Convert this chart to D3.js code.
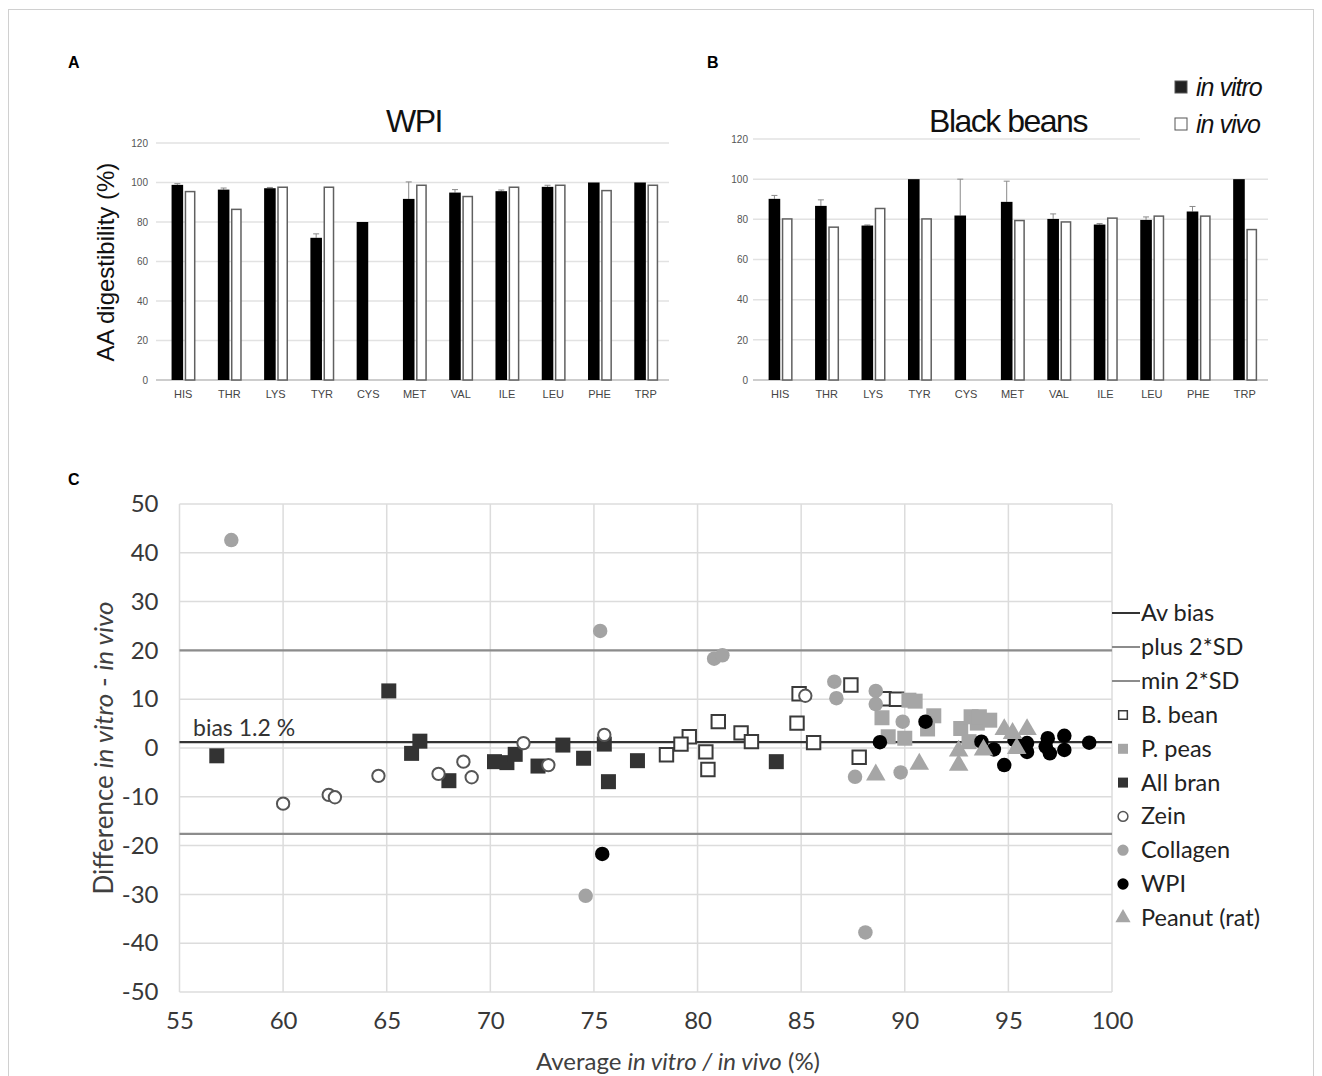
<!DOCTYPE html>
<html>
<head>
<meta charset="utf-8">
<script src="https://cdn.jsdelivr.net/npm/d3@7"></script>
<style>
  body { margin: 0; background: #fff; }
</style>
</head>
<body>
<div id="fig"></div>
<script>
'use strict';

// ---- data: panels A and B (amino acid digestibility, %) ----
const aminoAcids = ['HIS','THR','LYS','TYR','CYS','MET','VAL','ILE','LEU','PHE','TRP'];
const wpiVitro    = [98.8, 96.4, 97.1, 72.0, 80.0, 91.7, 94.9, 95.6, 97.8, 100, 100];
const wpiVitroErr = [0.6, 0.8, 0.4, 2.0, 0, 8.6, 1.5, 0.6, 0.8, 0, 0];
const wpiVivo     = [95.4, 86.4, 97.6, 97.6, null, 98.6, 92.9, 97.6, 98.6, 95.9, 98.6];
const beanVitro    = [90.2, 86.7, 76.9, 100, 81.9, 88.7, 80.2, 77.4, 79.7, 83.9, 100];
const beanVitroErr = [1.7, 3.0, 0.3, 0, 18.1, 10.3, 2.5, 0.5, 1.5, 2.5, 0];
const beanVivo     = [80.2, 76.1, 85.4, 80.2, null, 79.4, 78.7, 80.6, 81.6, 81.6, 74.9];
const barTicks = [0, 20, 40, 60, 80, 100, 120];

// ---- data: panel C (Bland-Altman, [average, difference]) ----
const bBean = [[87.4,12.9],[84.9,11.1],[84.8,5.1],[82.1,3.1],[82.6,1.3],[85.6,1.1],[87.8,-1.9],
  [81.0,5.4],[79.6,2.3],[79.2,0.8],[78.5,-1.4],[80.4,-0.8],[80.5,-4.4],[89.0,10.1],[89.6,10.0]];
const pPeas = [[88.9,6.2],[89.2,2.3],[90.0,2.0],[90.2,9.8],[90.5,9.6],[91.4,6.6],[91.1,3.9],
  [92.7,4.0],[93.2,6.4],[93.5,5.1],[93.6,6.4],[94.1,5.7],[93.1,1.3]];
const allBran = [[56.8,-1.6],[65.1,11.7],[66.2,-1.1],[66.6,1.4],[68.0,-6.7],[70.2,-2.8],[70.8,-3.0],
  [71.2,-1.3],[72.3,-3.7],[73.5,0.6],[74.5,-2.1],[75.5,0.8],[75.7,-6.9],[77.1,-2.6],[83.8,-2.8]];
const zein = [[60.0,-11.4],[62.2,-9.6],[62.5,-10.1],[64.6,-5.7],[67.5,-5.3],[68.7,-2.8],[69.1,-6.0],
  [71.6,1.0],[72.8,-3.5],[75.5,2.7],[85.2,10.7]];
const collagen = [[57.5,42.6],[75.3,24.0],[74.6,-30.3],[80.8,18.3],[81.2,19.0],[86.6,13.6],[86.7,10.2],
  [88.6,11.7],[88.6,9.0],[89.9,5.4],[87.6,-5.9],[89.8,-5.0],[88.1,-37.8]];
const wpi = [[75.4,-21.7],[88.8,1.2],[91.0,5.4],[93.7,1.3],[94.3,-0.3],[94.8,-3.5],[95.3,1.6],[95.9,1.0],
  [95.9,-0.8],[96.9,2.0],[96.8,0.3],[97.0,-1.1],[97.7,2.5],[97.7,-0.4],[98.9,1.1]];
const peanut = [[88.6,-5.5],[90.7,-3.3],[92.6,-0.6],[92.6,-3.5],[93.8,-0.4],[94.8,3.8],[95.2,3.0],
  [95.9,3.8],[95.4,-0.1]];
const avBias = 1.2, plus2SD = 20.0, min2SD = -17.6;
const xTicksC = [55, 60, 65, 70, 75, 80, 85, 90, 95, 100];
const yTicksC = [-50, -40, -30, -20, -10, 0, 10, 20, 30, 40, 50];

const W = 1322, H = 1076;
const svg = d3.select('#fig').append('svg')
  .attr('width', W).attr('height', H)
  .style('font-family', '"Liberation Sans", Arial, sans-serif');

// thin frame round the figure
svg.append('rect')
  .attr('x', 8.5).attr('y', 9.5).attr('width', 1305).attr('height', 1075)
  .attr('fill', 'none').attr('stroke', '#d0d0d0');

// panel letters
[['A', 68, 68], ['B', 707, 68], ['C', 68, 485]].forEach(function (p) {
  svg.append('text').attr('x', p[1]).attr('y', p[2])
    .style('font-size', '16px').style('font-weight', 'bold').text(p[0]);
});

// Bar chart for one protein (panels A and B)
function drawBars(g) {
  const x = d3.scaleBand().domain(aminoAcids).range([g.left, g.right]).padding(0);
  const y = d3.scaleLinear().domain([0, 120]).range([380, g.top]);
  const bw = x.bandwidth();
  const root = svg.append('g');

  // gridlines
  root.append('g').selectAll('line')
    .data(barTicks)
    .enter().append('line')
    .attr('x1', g.left - 4)
    .attr('x2', function (d) { return d === 120 ? g.gridEnd : g.right; })
    .attr('y1', function (d) { return y(d); })
    .attr('y2', function (d) { return y(d); })
    .style('stroke', function (d) { return d === 0 ? '#bdbdbd' : '#e2e2e2'; })
    .style('stroke-width', 1.5);

  // y axis labels
  const ya = root.append('g')
    .attr('transform', 'translate(' + g.left + ',0)')
    .call(d3.axisLeft(y).tickValues(barTicks).tickSize(0).tickPadding(g.pad));
  ya.select('.domain').remove();
  ya.selectAll('text').style('font-size', '10px').style('fill', '#555')
    .style('font-family', '"Liberation Sans", Arial, sans-serif');

  // x axis labels
  const xa = root.append('g')
    .attr('transform', 'translate(0,380)')
    .call(d3.axisBottom(x).tickSize(0).tickPadding(10));
  xa.select('.domain').remove();
  xa.selectAll('text').style('font-size', '11px').style('fill', '#444')
    .style('font-family', '"Liberation Sans", Arial, sans-serif');

  const rows = aminoAcids.map(function (a, i) {
    return { aa: a, vitro: g.vitro[i], err: g.err[i], vivo: g.vivo[i] };
  });

  // error bars (upper only)
  const eb = root.append('g').selectAll('g')
    .data(rows.filter(function (d) { return d.err > 0; }))
    .enter().append('g')
    .style('stroke', '#8a8a8a').style('stroke-width', 1);
  eb.append('line')
    .attr('x1', function (d) { return x(d.aa) + bw * 0.375; })
    .attr('x2', function (d) { return x(d.aa) + bw * 0.375; })
    .attr('y1', function (d) { return y(d.vitro); })
    .attr('y2', function (d) { return y(d.vitro + d.err); });
  eb.append('line')
    .attr('x1', function (d) { return x(d.aa) + bw * 0.375 - 3; })
    .attr('x2', function (d) { return x(d.aa) + bw * 0.375 + 3; })
    .attr('y1', function (d) { return y(d.vitro + d.err); })
    .attr('y2', function (d) { return y(d.vitro + d.err); });

  // in vitro (black)
  root.append('g').selectAll('rect')
    .data(rows)
    .enter().append('rect')
    .attr('x', function (d) { return x(d.aa) + bw * 0.25; })
    .attr('y', function (d) { return y(d.vitro); })
    .attr('width', bw * 0.25)
    .attr('height', function (d) { return y(0) - y(d.vitro); })
    .style('fill', '#000');

  // in vivo (white)
  root.append('g').selectAll('rect')
    .data(rows.filter(function (d) { return d.vivo !== null; }))
    .enter().append('rect')
    .attr('x', function (d) { return x(d.aa) + bw * 0.55; })
    .attr('y', function (d) { return y(d.vivo); })
    .attr('width', bw * 0.2)
    .attr('height', function (d) { return y(0) - y(d.vivo); })
    .style('fill', '#fff')
    .style('stroke', '#606060')
    .style('stroke-width', 1.5);

  root.append('text')
    .attr('x', g.titleX).attr('y', 132)
    .attr('text-anchor', 'middle')
    .style('font-size', '32px').style('letter-spacing', '-1.5px').style('fill', '#111')
    .text(g.title);
}

drawBars({ left: 160, right: 669, top: 143, gridEnd: 669, pad: 12,
  vitro: wpiVitro, err: wpiVitroErr, vivo: wpiVivo, title: 'WPI', titleX: 414 });
drawBars({ left: 757, right: 1268, top: 139, gridEnd: 1140, pad: 9,
  vitro: beanVitro, err: beanVitroErr, vivo: beanVivo, title: 'Black beans', titleX: 1008 });

// y title of panel A
svg.append('text')
  .attr('transform', 'translate(114,262) rotate(-90)')
  .attr('text-anchor', 'middle')
  .style('font-size', '24px').style('fill', '#111')
  .text('AA digestibility (%)');

// legend of panels A/B
[['in vitro', '#222', 87], ['in vivo', '#fff', 124]].forEach(function (l) {
  svg.append('rect').attr('x', 1175).attr('y', l[2] - 6).attr('width', 12).attr('height', 12)
    .style('fill', l[1]).style('stroke', '#555').style('stroke-width', 1);
  svg.append('text').attr('x', 1196).attr('y', l[2] + 9)
    .style('font-size', '25px').style('font-style', 'italic').style('letter-spacing', '-1px')
    .style('fill', '#111').text(l[0]);
});

// ---- panel C ----
const cFont = 'Lato, "Open Sans", sans-serif';
const xC = d3.scaleLinear().domain([55, 100]).range([179.5, 1112]);
const yC = d3.scaleLinear().domain([-50, 50]).range([992, 504]);
const gc = svg.append('g').style('font-family', cFont);

gc.append('g').selectAll('line').data(xTicksC).enter().append('line')
  .attr('x1', function (d) { return xC(d); }).attr('x2', function (d) { return xC(d); })
  .attr('y1', yC(50)).attr('y2', yC(-50))
  .style('stroke', '#dcdcdc').style('stroke-width', 1.5);
gc.append('g').selectAll('line').data(yTicksC).enter().append('line')
  .attr('x1', xC(55)).attr('x2', xC(100))
  .attr('y1', function (d) { return yC(d); }).attr('y2', function (d) { return yC(d); })
  .style('stroke', '#dcdcdc').style('stroke-width', 1.5);

const xaC = gc.append('g').attr('transform', 'translate(0,' + yC(-50) + ')')
  .call(d3.axisBottom(xC).tickValues(xTicksC).tickSize(0).tickPadding(20)
    .tickFormat(function (d) { return String(d); }));
xaC.select('.domain').remove();
xaC.selectAll('text').style('font-size', '24px').style('fill', '#383838').style('font-family', cFont);

const yaC = gc.append('g').attr('transform', 'translate(' + xC(55) + ',0)')
  .call(d3.axisLeft(yC).tickValues(yTicksC).tickSize(0).tickPadding(21)
    .tickFormat(function (d) { return String(d); }));
yaC.select('.domain').remove();
yaC.selectAll('text').style('font-size', '24px').style('fill', '#383838').style('font-family', cFont);

// axis titles
const xt = gc.append('text').attr('x', 678).attr('y', 1070).attr('text-anchor', 'middle')
  .style('font-size', '24px').style('fill', '#404040');
xt.append('tspan').text('Average ');
xt.append('tspan').style('font-style', 'italic').text('in vitro / in vivo');
xt.append('tspan').text(' (%)');

const yt = gc.append('text').attr('transform', 'translate(113,748) rotate(-90)')
  .attr('text-anchor', 'middle').style('font-size', '26px').style('fill', '#404040');
yt.append('tspan').text('Difference ');
yt.append('tspan').style('font-style', 'italic').text('in vitro');
yt.append('tspan').text(' - ');
yt.append('tspan').style('font-style', 'italic').text('in vivo');

// bias and limit lines
const refLines = [
  { name: 'Av bias', v: avBias, color: '#333', ly: 613 },
  { name: 'plus 2*SD', v: plus2SD, color: '#8c8c8c', ly: 647 },
  { name: 'min 2*SD', v: min2SD, color: '#8c8c8c', ly: 681 }
];
gc.append('g').selectAll('line').data(refLines).enter().append('line')
  .attr('x1', xC(55)).attr('x2', xC(100))
  .attr('y1', function (d) { return yC(d.v); }).attr('y2', function (d) { return yC(d.v); })
  .style('stroke', function (d) { return d.color; }).style('stroke-width', 2.2);

gc.append('text').attr('x', 193).attr('y', 736)
  .style('font-size', '23px').style('fill', '#333').text('bias 1.2 %');

// point series
const series = [
  { name: 'B. bean', data: bBean, shape: 'square', fill: '#fff', stroke: '#3a3a3a' },
  { name: 'P. peas', data: pPeas, shape: 'square', fill: '#a6a6a6', stroke: 'none' },
  { name: 'All bran', data: allBran, shape: 'square', fill: '#333', stroke: 'none' },
  { name: 'Zein', data: zein, shape: 'circle', fill: '#fff', stroke: '#555' },
  { name: 'Collagen', data: collagen, shape: 'circle', fill: '#a3a3a3', stroke: 'none' },
  { name: 'WPI', data: wpi, shape: 'circle', fill: '#000', stroke: 'none' },
  { name: 'Peanut (rat)', data: peanut, shape: 'triangle', fill: '#a6a6a6', stroke: 'none' }
];
const symbolOf = { square: d3.symbolSquare, circle: d3.symbolCircle, triangle: d3.symbolTriangle };
const sizeOf = { square: 225, circle: 165, triangle: 165 };

series.forEach(function (s) {
  gc.append('g').selectAll('path')
    .data(s.data)
    .enter().append('path')
    .attr('transform', function (d) { return 'translate(' + xC(d[0]) + ',' + yC(d[1]) + ')'; })
    .attr('d', d3.symbol().type(symbolOf[s.shape]).size(s.stroke === 'none' ? sizeOf[s.shape] : sizeOf[s.shape] - 45))
    .style('fill', s.fill)
    .style('stroke', s.stroke)
    .style('stroke-width', 2);
});

// legend of panel C
const lg = gc.append('g');
refLines.forEach(function (l) {
  lg.append('line').attr('x1', 1112).attr('x2', 1140).attr('y1', l.ly).attr('y2', l.ly)
    .style('stroke', l.color).style('stroke-width', 2);
  lg.append('text').attr('x', 1141).attr('y', l.ly + 8)
    .style('font-size', '23.5px').style('fill', '#222').text(l.name);
});
series.forEach(function (s, i) {
  const ly = 715 + i * 33.8;
  lg.append('path')
    .attr('transform', 'translate(1123,' + ly + ')')
    .attr('d', d3.symbol().type(symbolOf[s.shape]).size(s.stroke === 'none' ? 100 : 75))
    .style('fill', s.fill).style('stroke', s.stroke).style('stroke-width', 1.5);
  lg.append('text').attr('x', 1141).attr('y', ly + 8)
    .style('font-size', '23.5px').style('fill', '#222').text(s.name);
});
</script>
</body>
</html>
